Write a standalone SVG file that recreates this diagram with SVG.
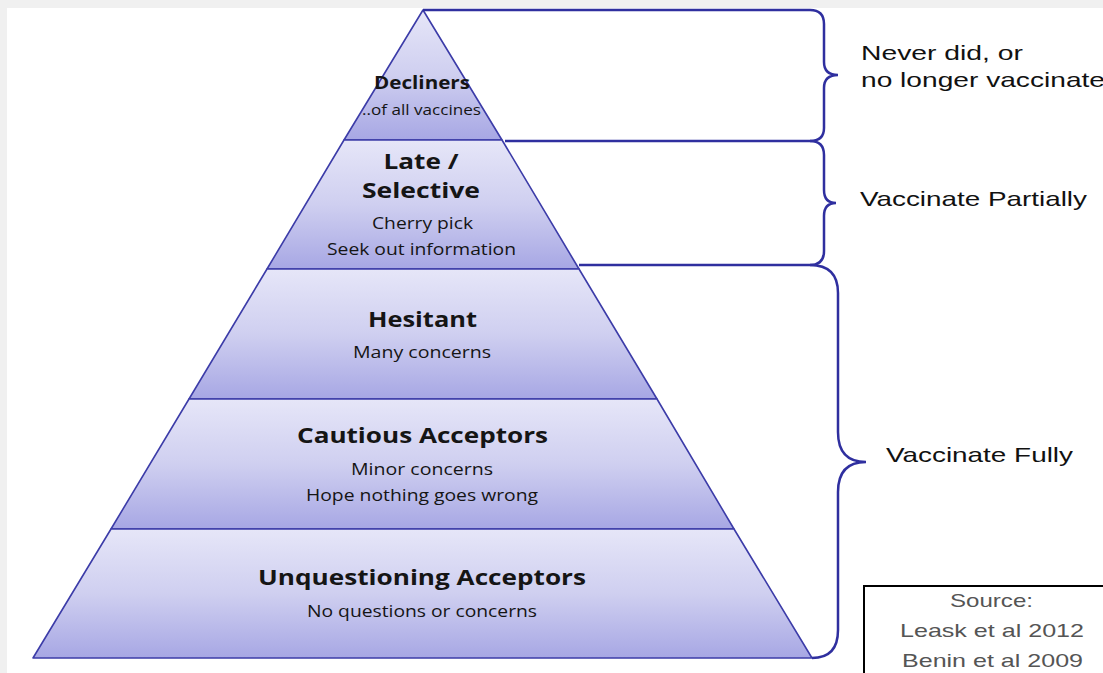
<svg xmlns="http://www.w3.org/2000/svg" width="1103" height="673" viewBox="0 0 1103 673">
<defs>
<linearGradient id="lg" x1="0" y1="0" x2="0" y2="1">
<stop offset="0" stop-color="#e6e6f8"/>
<stop offset="0.5" stop-color="#cfcff0"/>
<stop offset="1" stop-color="#a7a7e4"/>
</linearGradient>
<style>
.layer{fill:url(#lg);stroke:#3c3ca8;stroke-width:1.6;stroke-linejoin:round}
.t{font-family:"Open Sans","Liberation Sans",sans-serif;fill:#151515;text-anchor:middle}
.b{font-weight:bold;font-size:21px}
.s{font-size:16px}
.brace{fill:none;stroke:#2f2f9f;stroke-width:2.5}
.lbl{font-family:"Liberation Sans",Arial,sans-serif;font-size:21px;fill:#111}
.src{font-family:"Liberation Sans",Arial,sans-serif;font-size:18.5px;fill:#555;text-anchor:middle}
</style>
</defs>
<rect x="0" y="0" width="1103" height="673" fill="#ffffff"/>
<rect x="0" y="0" width="1103" height="8" fill="#f0f0f0"/>
<rect x="0" y="0" width="7" height="673" fill="#f0f0f0"/>
<g id="decliners">
<polygon class="layer" points="423,10 502,140 344,140"/>
<text class="t" x="422" y="89" font-size="17" font-weight="bold" textLength="96" lengthAdjust="spacingAndGlyphs">Decliners</text>
<text class="t" x="421.5" y="115" font-size="14" textLength="119" lengthAdjust="spacingAndGlyphs">..of all vaccines</text>
</g>
<g id="late-selective">
<polygon class="layer" points="344,140 502,140 579,269 267,269"/>
<text class="t b" x="421" y="169" textLength="75" lengthAdjust="spacingAndGlyphs">Late /</text>
<text class="t b" x="421" y="197.5" textLength="118" lengthAdjust="spacingAndGlyphs">Selective</text>
<text class="t s" x="422.5" y="229" textLength="101" lengthAdjust="spacingAndGlyphs">Cherry pick</text>
<text class="t s" x="421.5" y="255" textLength="189" lengthAdjust="spacingAndGlyphs">Seek out information</text>
</g>
<g id="hesitant">
<polygon class="layer" points="267,269 579,269 657,399 189,399"/>
<text class="t b" x="422.5" y="327" textLength="109" lengthAdjust="spacingAndGlyphs">Hesitant</text>
<text class="t s" x="422" y="358" textLength="138" lengthAdjust="spacingAndGlyphs">Many concerns</text>
</g>
<g id="cautious-acceptors">
<polygon class="layer" points="189,399 657,399 734,529 111,529"/>
<text class="t b" x="422.5" y="443" textLength="251" lengthAdjust="spacingAndGlyphs">Cautious Acceptors</text>
<text class="t s" x="422" y="475" textLength="142" lengthAdjust="spacingAndGlyphs">Minor concerns</text>
<text class="t s" x="422" y="501" textLength="232" lengthAdjust="spacingAndGlyphs">Hope nothing goes wrong</text>
</g>
<g id="unquestioning-acceptors">
<polygon class="layer" points="111,529 734,529 812,658 33,658"/>
<text class="t b" x="422" y="585" textLength="328" lengthAdjust="spacingAndGlyphs">Unquestioning Acceptors</text>
<text class="t s" x="422" y="617" textLength="230" lengthAdjust="spacingAndGlyphs">No questions or concerns</text>
</g>
<g id="connectors">
<path class="brace" d="M423,10 H810 Q824,10 824,24 V62 Q824,75 838,75 Q824,75 824,88 V128 Q824,141 810,141 H505"/>
<path class="brace" d="M810,141 Q824,141 824,155 V190 Q824,203 836,203 Q824,203 824,216 V251 Q824,265 810,265 H579"/>
<path class="brace" d="M810,265 Q838,265 838,293 V432 Q838,462 866,462 Q838,462 838,492 V630 Q838,658 812,658"/>
</g>
<g id="labels">
<text class="lbl" x="861" y="60" textLength="162" lengthAdjust="spacingAndGlyphs">Never did, or</text>
<text class="lbl" x="861" y="87" textLength="244" lengthAdjust="spacingAndGlyphs">no longer vaccinate</text>
<text class="lbl" x="860" y="206" textLength="227" lengthAdjust="spacingAndGlyphs">Vaccinate Partially</text>
<text class="lbl" x="886" y="462" textLength="187" lengthAdjust="spacingAndGlyphs">Vaccinate Fully</text>
</g>
<g id="source">
<rect x="864" y="586" width="250" height="100" fill="#fff" stroke="#000" stroke-width="2"/>
<text class="src" x="991.5" y="607" textLength="83" lengthAdjust="spacingAndGlyphs">Source:</text>
<text class="src" x="992" y="637" textLength="184" lengthAdjust="spacingAndGlyphs">Leask et al 2012</text>
<text class="src" x="992.5" y="667" textLength="181" lengthAdjust="spacingAndGlyphs">Benin et al 2009</text>
</g>
</svg>
